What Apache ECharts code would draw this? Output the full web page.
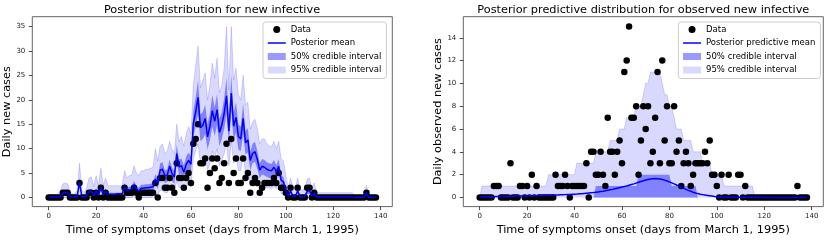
<!DOCTYPE html>
<html><head><meta charset="utf-8">
<script src="https://cdn.jsdelivr.net/npm/echarts@6/dist/echarts.min.js"></script>
<style>html,body{margin:0;padding:0;background:#fff}#c{width:831px;height:241px}</style>
</head><body><div id="c"></div>
<script>
// Day index (days from March 1, 1995)
const days = [0,1,2,3,4,5,6,7,8,9,10,11,12,13,14,15,16,17,18,19,20,21,22,23,24,25,26,27,28,29,30,31,32,33,34,35,36,37,38,39,40,41,42,43,44,45,46,47,48,49,50,51,52,53,54,55,56,57,58,59,60,61,62,63,64,65,66,67,68,69,70,71,72,73,74,75,76,77,78,79,80,81,82,83,84,85,86,87,88,89,90,91,92,93,94,95,96,97,98,99,100,101,102,103,104,105,106,107,108,109,110,111,112,113,114,115,116,117,118,119,120,121,122,123,124,125,126,127,128,129,130,131,132,133,134,135,136,137,138];

// Observed daily cases (same data in both panels)
const observedCases = [
0,0,0,0,0,0,1,1,1,0,
0,0,0,3,0,0,0,1,1,0,
1,0,2,0,1,0,0,0,0,0,
0,0,2,1,1,1,2,1,0,1,
1,1,1,1,1,3,0,4,4,2,
2,4,2,1,7,4,4,2,4,5,
3,11,12,15,7,7,8,2,5,8,
6,8,3,4,7,11,3,12,5,8,
3,3,8,4,5,1,3,4,3,1,
2,3,3,3,3,4,3,5,2,2,
1,0,2,0,0,2,0,0,0,2,
2,0,1,0,0,0,0,0,0,0,
0,0,0,0,0,0,0,0,0,0,
0,0,0,0,1,0,0,0,0];

// Left panel: posterior of new infectives
const infMean = [
0.1,0.1,0.1,0.1,0.1,0.2,1.0,1.1,1.0,0.2,
0.1,0.1,0.2,3.1,0.2,0.1,0.3,1.2,1.3,0.4,
1.4,0.5,2.1,0.6,1.3,0.7,0.7,0.7,0.7,0.8,
0.8,0.8,2.2,1.5,1.6,1.7,2.6,1.8,1.3,1.9,
1.9,2.0,2.0,2.1,2.2,3.8,2.9,5.6,5.8,4.4,
4.6,6.4,4.9,4.2,9.0,6.3,6.5,5.2,6.8,7.6,
6.8,15.2,17.5,20.5,14.3,14.8,16.2,12.4,14.6,17.8,
15.6,18.0,13.3,14.8,17.2,20.8,13.6,21.4,14.6,16.4,
12.5,12.0,16.2,11.2,11.8,7.6,9.0,9.4,7.8,5.6,
6.4,6.2,5.8,5.6,5.5,6.2,5.3,6.4,3.6,3.2,
1.6,0.3,1.4,0.3,0.2,1.4,0.2,0.1,0.2,1.3,
1.4,0.3,0.9,0.1,0.1,0.1,0.1,0.1,0.1,0.1,
0.1,0.1,0.1,0.1,0.1,0.1,0.1,0.1,0.1,0.05,
0.05,0.05,0.05,0.05,1.0,0.05,0.05,0.05,0.05];
const infLo50 = [
0,0,0,0,0,0,0.7,0.8,0.7,0,
0,0,0,2.2,0,0,0,0.6,0.7,0,
0.8,0,1.3,0,0.7,0.2,0.2,0.2,0.2,0.2,
0.2,0.2,1.3,0.8,0.8,0.9,1.6,1.0,0.6,1.1,
1.1,1.2,1.2,1.2,1.3,2.6,1.8,4.0,4.2,3.0,
3.2,4.8,3.4,2.8,7.0,4.6,4.8,3.6,5.0,5.8,
5.0,12.5,14.5,17.0,11.5,12.0,13.0,9.8,11.8,14.5,
12.6,14.8,10.5,12.0,14.0,17.2,10.8,17.8,11.8,13.3,
9.8,9.5,13.0,8.8,9.2,5.6,7.0,7.3,5.8,4.0,
4.7,4.5,4.2,4.0,4.0,4.6,3.8,4.8,2.4,2.0,
0.8,0,0.7,0,0,0.7,0,0,0,0.7,
0.8,0,0.4,0,0,0,0,0,0,0,
0,0,0,0,0,0,0,0,0,0,
0,0,0,0,0.6,0,0,0,0];
const infHi50 = [
0,0,0,0,0,0.2,1.2,1.3,1.2,0.2,
0,0,0.2,4.0,0.2,0,0.5,1.6,1.7,0.6,
1.8,0.8,2.8,1.0,1.8,1.0,1.0,1.0,1.0,1.0,
1.0,1.0,3.0,2.0,2.2,2.3,3.4,2.4,2.0,2.6,
2.6,2.7,2.7,2.8,3.0,4.8,3.8,7.0,7.2,5.6,
5.8,7.8,6.2,5.4,10.8,7.8,8.0,6.6,8.4,9.2,
8.4,17.8,20.5,24.0,17.0,17.5,19.0,15.0,17.3,21.0,
18.5,21.2,16.0,17.5,20.3,24.5,16.3,25.0,17.3,19.5,
15.0,14.5,19.2,13.6,14.2,9.4,11.0,11.4,9.6,7.0,
7.9,7.7,7.2,7.0,6.9,7.7,6.6,7.9,4.7,4.2,
2.2,0.5,2.0,0.5,0.3,2.0,0.3,0,0.3,1.9,
2.0,0.5,1.3,0,0,0,0,0,0,0,
0,0,0,0,0,0,0,0,0,0,
0,0,0,0,1.3,0,0,0,0];
const infLo95 = [
0,0,0,0,0,0,0,0,0,0,
0,0,0,0.5,0,0,0,0,0,0,
0,0,0,0,0,0,0,0,0,0,
0,0,0,0,0,0,0.3,0,0,0,
0,0,0,0,0.2,0.8,0.4,1.5,1.5,1.0,
1.0,2.0,1.2,0.8,3.5,2.0,2.0,1.5,2.2,2.8,
2.2,8.0,9.5,11.0,7.0,7.5,8.5,5.5,7.0,9.5,
8.0,10.0,6.5,7.5,9.0,11.0,6.5,11.5,7.0,8.5,
5.5,5.5,8.5,5.0,5.2,2.8,3.5,3.8,3.0,1.8,
2.2,2.0,2.0,2.0,1.8,2.2,1.8,2.5,0.8,0.6,
0,0,0,0,0,0,0,0,0,0,
0,0,0,0,0,0,0,0,0,0,
0,0,0,0,0,0,0,0,0,0,
0,0,0,0,0,0,0,0,0];
const infHi95 = [
0.6,0.6,0.6,0.6,0.8,1.5,2.8,3.0,2.8,1.2,
0.8,0.8,1.5,7.0,1.5,1.0,2.0,4.0,4.2,2.2,
4.5,2.5,6.0,2.5,4.0,2.4,2.4,2.4,2.4,2.4,
2.4,2.4,5.5,4.0,4.5,4.5,6.5,5.0,4.5,5.5,
5.5,5.8,5.8,6.0,6.2,10.0,7.5,10.5,11.0,9.0,
9.5,11.5,10.0,9.0,15.0,11.5,12.5,10.5,13.0,14.5,
13.0,23.0,27.0,31.0,22.5,24.0,25.5,20.0,23.0,27.5,
24.5,28.5,21.5,23.0,26.5,35.0,22.0,35.0,24.0,26.5,
21.0,20.0,25.0,19.0,19.5,14.0,15.5,16.0,14.0,11.0,
12.0,12.0,11.0,10.5,10.5,11.5,10.0,11.5,8.0,7.5,
4.5,2.0,4.0,2.2,2.0,4.0,1.8,1.5,2.0,3.8,
4.0,2.0,3.0,1.0,1.0,1.0,1.0,1.0,1.0,1.0,
1.0,1.0,1.0,1.0,1.0,1.0,1.0,1.0,1.0,0.3,
0.3,0.3,0.3,0.3,2.5,0.3,0.3,0.3,0.3];

// Right panel: posterior predictive of observed cases (lower bounds of both intervals are 0)
const obsMean = [
0.05,0.05,0.05,0.06,0.06,0.07,0.07,0.08,0.08,0.09,
0.09,0.10,0.10,0.11,0.11,0.12,0.12,0.13,0.13,0.14,
0.14,0.15,0.15,0.16,0.16,0.17,0.17,0.18,0.19,0.19,
0.20,0.21,0.22,0.22,0.23,0.24,0.25,0.26,0.27,0.28,
0.29,0.30,0.32,0.33,0.35,0.37,0.39,0.41,0.43,0.46,
0.49,0.52,0.55,0.59,0.63,0.67,0.71,0.76,0.81,0.86,
0.91,0.96,1.01,1.07,1.13,1.19,1.26,1.33,1.40,1.47,
1.53,1.58,1.62,1.65,1.66,1.65,1.62,1.58,1.52,1.45,
1.37,1.28,1.19,1.09,0.99,0.89,0.80,0.71,0.62,0.54,
0.46,0.40,0.34,0.29,0.25,0.21,0.18,0.15,0.12,0.09,
0.07,0.05,0.04,0.03,0.02,0.02,0.01,0.01,0.01,0.01,
0.01,0.01,0.01,0.01,0.01,0.01,0.01,0.01,0.01,0.01,
0,0,0,0,0,0,0,0,0,0,
0,0,0,0,0,0,0,0,0];
const obsHi50 = [
0,0,0,0,0,0,0,0,0,0,
0,0,0,0,0,0,0,0,0,0,
0,0,0,0,0,0,0,0,0,0,
0,0,0,0,0,0,0,0,0,0,
0,0,0,0,0,0,0,0,0,1,
1,1,1,1,1,1,1,1,1,1,
1,1,1,1,1,1,1,2,2,2,
2,2,2,2,2,2,2,2,2,2,
2,1,1,1,1,1,1,1,1,1,
1,1,0,0,0,0,0,0,0,0,
0,0,0,0,0,0,0,0,0,0,
0,0,0,0,0,0,0,0,0,0,
0,0,0,0,0,0,0,0,0,0,
0,0,0,0,0,0,0,0,0];
const obsHi95 = [
0,1,1,1,1,1,1,1,1,1,
1,1,1,1,1,1,1,1,1,1,
1,1,1,1,1,1,1,1,1,2,
2,2,2,2,2,2,2,2,2,2,
2,3,3,3,3,3,3,3,3,4,
4,4,4,4,4,5,5,5,5,6,
6,6,7,7,7,7,8,8,8,9,
10,10,11,11,11,11,11,10,9,9,
8,8,7,6,6,6,5,5,5,5,
4,4,4,4,3,3,3,3,2,2,
2,2,2,1,1,1,1,1,1,1,
1,1,1,1,1,1,0,0,0,0,
0,0,0,0,0,0,0,0,0,0,
0,0,0,0,0,0,0,0,0];

// Tick labels
const xTicks = [0,20,40,60,80,100,120,140];
const yTicksLeft = [0,5,10,15,20,25,30,35];
const yTicksRight = [0,2,4,6,8,10,12,14];

const FONT = 'DejaVu Sans';
const C50 = 'rgba(0,0,255,0.40)';
const C95 = 'rgba(0,0,255,0.15)';
const LIGHT = '#d9d9ff';   // 95% band on white
const DARK = '#8282ff';    // 50% band over 95% band
const EDGE = 'rgba(0,0,255,0.22)';

function pairs(ys){ return days.map((d,i)=>[d, ys[i]]); }

function xAxisCfg(idx){
  return {
    type:'value', gridIndex: idx, min:-6.9, max:144.9,
    name:'Time of symptoms onset (days from March 1, 1995)',
    nameLocation:'middle', nameGap:14.5,
    nameTextStyle:{fontFamily:FONT, fontSize:11.3, color:'#000'},
    axisLine:{show:false, onZero:false},
    splitLine:{show:false},
    axisTick:{show:true, customValues:xTicks, length:3.5, lineStyle:{color:'#222', width:0.8}},
    axisLabel:{customValues:xTicks, fontFamily:FONT, fontSize:7, color:'#222', margin:6.5}
  };
}
function yAxisCfg(idx, min, max, ticks, name){
  return {
    type:'value', gridIndex: idx, min:min, max:max,
    name:name, nameLocation:'middle', nameGap:10,
    nameTextStyle:{fontFamily:FONT, fontSize:11.3, color:'#000'},
    axisLine:{show:false, onZero:false},
    splitLine:{show:false},
    axisTick:{show:true, customValues:ticks, length:3.5, lineStyle:{color:'#222', width:0.8}},
    axisLabel:{customValues:ticks, fontFamily:FONT, fontSize:7, color:'#222', margin:7}
  };
}
function legendCfg(left, meanName){
  return {
    orient:'vertical', left:left, top:22,
    padding:[3,5,4,4], itemGap:4.5, itemWidth:18, itemHeight:7,
    borderColor:'#cccccc', borderWidth:1, borderRadius:3,
    backgroundColor:'rgba(255,255,255,0.8)',
    textStyle:{fontFamily:FONT, fontSize:8.5, color:'#000', lineHeight:8.5},
    selectedMode:false,
    data:[
      {name:'Data', icon:'circle', itemStyle:{color:'#000', borderWidth:0}},
      {name:meanName, itemStyle:{opacity:0}, lineStyle:{color:'#0000ff', width:1.5}},
      {name:'50% credible interval', icon:'rect', itemStyle:{color:C50, borderWidth:0}},
      {name:'95% credible interval', icon:'rect', itemStyle:{color:C95, borderWidth:0}}
    ]
  };
}
// filled area from 0 up to the given curve
function area(name, idx, ys, fill, edge){
  return {name:name, type:'line', xAxisIndex:idx, yAxisIndex:idx, data:pairs(ys),
    symbol:'none', color:fill,
    lineStyle: edge ? {width:0.7, color:edge} : {width:0, opacity:0},
    areaStyle:{color:fill, opacity:1, origin:0}, z:1, silent:true};
}

const chart = echarts.init(document.getElementById('c'), null, {renderer:'canvas'});
chart.setOption({
  animation:false,
  backgroundColor:'#fff',
  title:[
    {text:'Posterior distribution for new infective', left:212, top:4.5, textAlign:'center', padding:0,
     textStyle:{fontFamily:FONT, fontSize:11.3, fontWeight:'normal', color:'#000'}},
    {text:'Posterior predictive distribution for observed new infective', left:643.3, top:4.5, textAlign:'center', padding:0,
     textStyle:{fontFamily:FONT, fontSize:11.3, fontWeight:'normal', color:'#000'}}
  ],
  legend:[legendCfg(263, 'Posterior mean'), legendCfg(678.3, 'Posterior predictive mean')],
  grid:[
    {left:32.3, top:16.7, width:360, height:194, show:true, borderColor:'#666', borderWidth:1, backgroundColor:'transparent'},
    {left:463.3, top:16.7, width:360, height:194, show:true, borderColor:'#666', borderWidth:1, backgroundColor:'transparent'}
  ],
  xAxis:[xAxisCfg(0), xAxisCfg(1)],
  yAxis:[yAxisCfg(0, -1.85, 37, yTicksLeft, 'Daily new cases'), yAxisCfg(1, -0.8, 15.85, yTicksRight, 'Daily observed new cases')],
  series:[
    // left panel bands: painted from the top quantile down
    area('95% credible interval', 0, infHi95, LIGHT, EDGE),
    area('50% credible interval', 0, infHi50, DARK, null),
    area('lower50', 0, infLo50, LIGHT, null),
    area('lower95', 0, infLo95, '#ffffff', EDGE),
    {name:'Data', type:'scatter', xAxisIndex:0, yAxisIndex:0, data:pairs(observedCases), symbol:'circle', symbolSize:6.5, itemStyle:{color:'#000', opacity:1}, z:2, silent:true},
    {name:'Posterior mean', type:'line', xAxisIndex:0, yAxisIndex:0, data:pairs(infMean), symbol:'none', color:'#0000ff', lineStyle:{width:1.5, color:'#0000ff'}, z:3, silent:true},

    area('95% credible interval', 1, obsHi95, LIGHT, EDGE),
    area('50% credible interval', 1, obsHi50, DARK, null),
    {name:'Data', type:'scatter', xAxisIndex:1, yAxisIndex:1, data:pairs(observedCases), symbol:'circle', symbolSize:6.5, itemStyle:{color:'#000', opacity:1}, z:2, silent:true},
    {name:'Posterior predictive mean', type:'line', xAxisIndex:1, yAxisIndex:1, data:pairs(obsMean), symbol:'none', color:'#0000ff', lineStyle:{width:1.5, color:'#0000ff'}, z:3, silent:true}
  ]
});
</script>
</body></html>
